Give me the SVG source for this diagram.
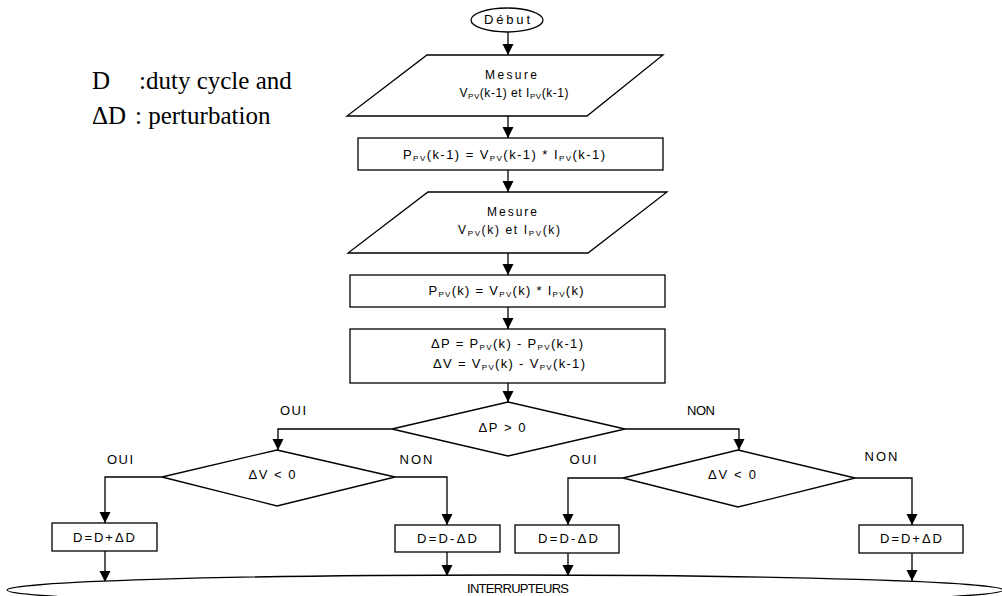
<svg xmlns="http://www.w3.org/2000/svg" width="1002" height="596" viewBox="0 0 1002 596">
<defs>
<marker id="arr" markerUnits="userSpaceOnUse" markerWidth="12" markerHeight="12" refX="11" refY="6" orient="auto">
<path d="M0,0.5 L11,6 L0,11.5 z" fill="#000"/>
</marker>
<style>
.s{fill:#fff;stroke:#000;stroke-width:1.3}
.c{fill:none;stroke:#000;stroke-width:1.3;marker-end:url(#arr)}
.t{font-family:"Liberation Sans",Arial,sans-serif;font-size:13px;fill:#000;text-anchor:middle}
.sm{font-size:12px}
.sub{font-size:8px}
.lb{font-family:"Liberation Serif","Times New Roman",serif;font-size:25px;fill:#000}
</style>
</defs>
<rect width="1002" height="596" fill="#fff"/>
<g id="legend">
<text class="lb" x="92" y="89">D<tspan x="139">:duty cycle and</tspan></text>
<text class="lb" x="92" y="124">ΔD<tspan x="135">: perturbation</tspan></text>
</g>
<g id="connectors">
<path class="c" d="M508,32 V55"/>
<path class="c" d="M508,116 V138"/>
<path class="c" d="M508,170 V192"/>
<path class="c" d="M508,253 V275"/>
<path class="c" d="M508,307 V329"/>
<path class="c" d="M508,383 V402"/>
<path class="c" d="M392,429 H278 V450"/>
<path class="c" d="M625,429 H739 V450"/>
<path class="c" d="M162,477 H105 V523"/>
<path class="c" d="M395,477 H447 V525"/>
<path class="c" d="M623,478 H568 V525"/>
<path class="c" d="M855,478 H912 V525"/>
<path class="c" d="M105,551 V582"/>
<path class="c" d="M447,552 V576"/>
<path class="c" d="M568,553 V576"/>
<path class="c" d="M912,553 V581"/>
</g>
<g id="debut">
<ellipse class="s" cx="507" cy="20" rx="36" ry="12"/>
<text class="t" x="507" y="24" textLength="46">Début</text>
</g>
<g id="mesure1">
<polygon class="s" points="427,55 663,55 587,116 347,116"/>
<text class="t sm" x="511" y="79" textLength="52">Mesure</text>
<text class="t sm" x="514" y="97" textLength="109">V<tspan class="sub" dy="2">PV</tspan><tspan dy="-2">(k-1) et I</tspan><tspan class="sub" dy="2">PV</tspan><tspan dy="-2">(k-1)</tspan></text>
</g>
<g id="ppv1">
<rect class="s" x="358" y="138" width="305" height="32"/>
<text class="t" x="504" y="159" textLength="202">P<tspan class="sub" dy="2">PV</tspan><tspan dy="-2">(k-1) = V</tspan><tspan class="sub" dy="2">PV</tspan><tspan dy="-2">(k-1) * I</tspan><tspan class="sub" dy="2">PV</tspan><tspan dy="-2">(k-1)</tspan></text>
</g>
<g id="mesure2">
<polygon class="s" points="428,192 667,192 588,253 348,253"/>
<text class="t sm" x="512" y="216" textLength="50">Mesure</text>
<text class="t sm" x="509" y="234" textLength="102">V<tspan class="sub" dy="2">PV</tspan><tspan dy="-2">(k) et I</tspan><tspan class="sub" dy="2">PV</tspan><tspan dy="-2">(k)</tspan></text>
</g>
<g id="ppv2">
<rect class="s" x="350" y="275" width="315" height="32"/>
<text class="t" x="506" y="295" textLength="155">P<tspan class="sub" dy="2">PV</tspan><tspan dy="-2">(k) = V</tspan><tspan class="sub" dy="2">PV</tspan><tspan dy="-2">(k) * I</tspan><tspan class="sub" dy="2">PV</tspan><tspan dy="-2">(k)</tspan></text>
</g>
<g id="delta">
<rect class="s" x="350" y="329" width="315" height="54"/>
<text class="t" x="507" y="348" textLength="152">ΔP = P<tspan class="sub" dy="2">PV</tspan><tspan dy="-2">(k) - P</tspan><tspan class="sub" dy="2">PV</tspan><tspan dy="-2">(k-1)</tspan></text>
<text class="t" x="509" y="368" textLength="152">ΔV = V<tspan class="sub" dy="2">PV</tspan><tspan dy="-2">(k) - V</tspan><tspan class="sub" dy="2">PV</tspan><tspan dy="-2">(k-1)</tspan></text>
</g>
<g id="dec-dp">
<polygon class="s" points="508,402 625,429 508,456 392,429"/>
<text class="t" x="502" y="432" textLength="47">ΔP &gt; 0</text>
<text class="t" x="293" y="415" textLength="26">OUI</text>
<text class="t" x="701" y="415" textLength="28">NON</text>
</g>
<g id="dec-dv-left">
<polygon class="s" points="277,450 395,477 277,506 162,477"/>
<text class="t" x="272" y="479" textLength="47">ΔV &lt; 0</text>
<text class="t" x="120" y="464" textLength="26">OUI</text>
<text class="t" x="416" y="464" textLength="33">NON</text>
</g>
<g id="dec-dv-right">
<polygon class="s" points="738,450 855,478 738,507 623,478"/>
<text class="t" x="732" y="479" textLength="48">ΔV &lt; 0</text>
<text class="t" x="583" y="464" textLength="27">OUI</text>
<text class="t" x="881" y="461" textLength="33">NON</text>
</g>
<g id="box1">
<rect class="s" x="52" y="523" width="105" height="28"/>
<text class="t" x="104" y="542" textLength="62">D=D+ΔD</text>
</g>
<g id="box2">
<rect class="s" x="395" y="525" width="105" height="27"/>
<text class="t" x="447" y="543" textLength="60">D=D-ΔD</text>
</g>
<g id="box3">
<rect class="s" x="515" y="525" width="104" height="28"/>
<text class="t" x="568" y="543" textLength="60">D=D-ΔD</text>
</g>
<g id="box4">
<rect class="s" x="859" y="525" width="104" height="28"/>
<text class="t" x="911" y="543" textLength="62">D=D+ΔD</text>
</g>
<g id="interrupteurs">
<ellipse class="s" cx="505" cy="590" rx="498" ry="15"/>
<text class="t" x="518" y="593" font-size="10" textLength="102">INTERRUPTEURS</text>
</g>
</svg>
